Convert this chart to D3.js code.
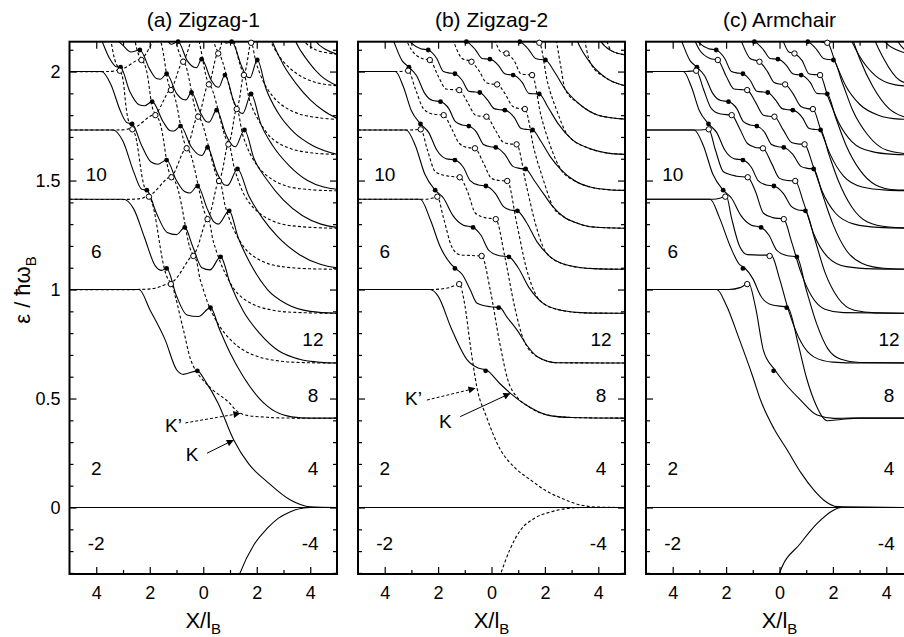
<!DOCTYPE html>
<html><head><meta charset="utf-8">
<script src="https://cdn.jsdelivr.net/npm/d3@7"></script>
<style>
body{margin:0;background:#fff;}
svg text{font-family:"Liberation Sans",Arial,Helvetica,sans-serif;fill:#000;}
</style></head><body>
<svg id="fig" width="904" height="637"></svg>
<script>
// ---------- data (x in l_B, energy in hbar*omega_B) ----------
const yMajor = [0, 0.5, 1, 1.5, 2];
const xMajor = [-4, -2, 0, 2, 4];
const xMinor = [-3, -1, 1, 3];

// marked points, same positions in all three panels
const filledDots = [
  [-0.22,0.627],[0.27,0.917],[0.65,1.15],[0.97,1.361],[1.28,1.553],[1.54,1.732],[1.79,1.897],[2.02,2.053],
  [-1.37,1.097],[-0.69,1.285],[-0.21,1.475],[0.16,1.652],[0.5,1.823],[0.81,1.984],[1.06,2.137],
  [-2.11,1.456],[-1.37,1.594],[-0.85,1.75],[-0.44,1.904],[-0.06,2.057],
  [-2.66,1.76],[-1.91,1.862],[-1.37,1.99],[-0.94,2.137],
  [-3.09,2.02],[-2.37,2.099]
];
const openDots = [
  [-1.21,1.025],[-0.37,1.154],[0.16,1.323],[0.59,1.498],[0.94,1.666],[1.25,1.828],[1.52,1.984],[1.79,2.132],
  [-2.03,1.426],[-1.19,1.515],[-0.62,1.648],[-0.19,1.793],[0.21,1.941],[0.56,2.083],
  [-2.65,1.735],[-1.79,1.80],[-1.21,1.915],[-0.75,2.045],
  [-3.12,2.004],[-2.31,2.053]
];

// (a) Zigzag-1, K valley (solid)
const zig1K = [
  [[-5,0],[5,0]],
  [[1.2,-0.36],[1.36,-0.305],[1.9,-0.17],[2.39,-0.096],[2.8,-0.05],[3.26,-0.019],[4.0,0],[5,0]],
  [[-5,1],[-2.4,1],[-1.99,0.906],[-1.42,0.768],[-0.99,0.631],[-0.74,0.611],[-0.22,0.627],[0.1,0.575],[0.55,0.48],[1.14,0.31],[1.7,0.2],[2.39,0.118],[3.26,0.034],[4.0,0.003],[5,0]],
  [[-5,1.414],[-3.0,1.414],[-2.6,1.37],[-2.2,1.24],[-1.8,1.11],[-1.55,1.088],[-1.37,1.097],[-1.0,0.97],[-0.61,0.883],[-0.18,0.876],[0.27,0.917],[0.6,0.82],[1.0,0.71],[1.5,0.6],[2.1,0.5],[2.7,0.44],[3.3,0.416],[4,0.41],[5,0.41]],
  [[-5,1.732],[-3.37,1.732],[-3.0,1.68],[-2.6,1.54],[-2.3,1.46],[-2.11,1.456],[-1.75,1.35],[-1.35,1.262],[-1.0,1.252],[-0.69,1.285],[-0.4,1.2],[-0.05,1.1],[0.25,1.09],[0.65,1.15],[1.0,1.03],[1.5,0.9],[2.1,0.8],[2.8,0.72],[3.6,0.68],[4.4,0.666],[5,0.663]],
  [[-5,2],[-3.8,2],[-3.45,1.94],[-3.1,1.82],[-2.85,1.765],[-2.66,1.76],[-2.3,1.66],[-1.95,1.585],[-1.7,1.575],[-1.37,1.594],[-1.0,1.5],[-0.7,1.45],[-0.5,1.443],[-0.21,1.475],[0.15,1.37],[0.4,1.31],[0.56,1.3],[0.97,1.361],[1.3,1.24],[1.8,1.11],[2.4,1.0],[3.1,0.935],[4,0.9],[5,0.891]],
  [[-5,2.236],[-4.3,2.236],[-3.9,2.17],[-3.5,2.06],[-3.25,2.022],[-3.09,2.02],[-2.75,1.91],[-2.4,1.848],[-2.2,1.843],[-1.91,1.862],[-1.5,1.77],[-1.25,1.73],[-1.1,1.727],[-0.85,1.75],[-0.45,1.655],[-0.15,1.617],[-0.05,1.615],[0.16,1.652],[0.5,1.54],[0.8,1.48],[0.91,1.478],[1.28,1.553],[1.7,1.43],[2.2,1.33],[2.8,1.24],[3.6,1.16],[4.4,1.115],[5,1.1]],
  [[-5,2.449],[-4.6,2.44],[-4.1,2.33],[-3.6,2.2],[-3.0,2.12],[-2.7,2.09],[-2.37,2.099],[-2.0,2.01],[-1.75,1.968],[-1.6,1.965],[-1.37,1.99],[-1.0,1.9],[-0.75,1.872],[-0.65,1.87],[-0.44,1.904],[-0.1,1.81],[0.12,1.77],[0.22,1.768],[0.5,1.823],[0.85,1.71],[1.1,1.66],[1.2,1.655],[1.54,1.732],[1.9,1.6],[2.4,1.5],[3.0,1.41],[3.7,1.34],[4.4,1.3],[5,1.285]],
  [[-2.5,2.4],[-1.9,2.25],[-1.5,2.18],[-1.2,2.125],[-0.94,2.137],[-0.6,2.05],[-0.35,2.02],[-0.25,2.018],[-0.06,2.057],[0.3,1.96],[0.5,1.93],[0.58,1.928],[0.81,1.984],[1.15,1.86],[1.4,1.81],[1.48,1.808],[1.79,1.897],[2.15,1.76],[2.6,1.66],[3.2,1.57],[3.9,1.5],[4.5,1.47],[5,1.46]],
  [[-0.5,2.5],[0.2,2.3],[0.6,2.19],[0.85,2.13],[1.06,2.137],[1.45,2.02],[1.65,1.975],[1.75,1.972],[2.02,2.053],[2.35,1.92],[2.8,1.81],[3.4,1.72],[4.1,1.66],[5,1.62]],
  [[2.0,2.35],[2.56,2.144],[3.0,2.03],[3.5,1.94],[4.0,1.87],[4.5,1.82],[5,1.785]],
  [[3.0,2.3],[3.43,2.144],[3.9,2.05],[4.4,1.98],[5,1.935]],
  [[3.9,2.22],[4.18,2.144],[4.6,2.1],[5,2.08]]
];
// (a) Zigzag-1, K' valley (dashed)
const zig1Kp = [
  [[-5,1],[-2.5,1],[-1.8,1.006],[-1.21,1.025],[-1.05,0.97],[-0.74,0.814],[-0.36,0.646],[0.26,0.55],[0.89,0.49],[1.39,0.432],[2.39,0.414],[3.5,0.41],[5,0.41]],
  [[-5,1.414],[-2.7,1.414],[-2.3,1.418],[-2.03,1.426],[-1.21,1.035],[-0.37,1.154],[-0.1,1.04],[0.3,0.9],[0.8,0.8],[1.4,0.73],[2.1,0.69],[3.0,0.67],[4,0.664],[5,0.663]],
  [[-5,1.732],[-3.3,1.732],[-2.95,1.733],[-2.65,1.735],[-2.03,1.436],[-1.19,1.515],[-0.37,1.164],[0.16,1.323],[0.4,1.21],[0.8,1.08],[1.3,0.98],[1.9,0.93],[2.7,0.903],[3.7,0.894],[5,0.891]],
  [[-5,2],[-3.7,2],[-3.4,2.001],[-3.12,2.004],[-2.65,1.745],[-1.79,1.80],[-1.19,1.525],[-0.62,1.648],[0.16,1.333],[0.59,1.498],[0.85,1.37],[1.2,1.26],[1.7,1.17],[2.4,1.12],[3.3,1.1],[5,1.093]],
  [[-5,2.236],[-4.1,2.236],[-3.7,2.245],[-3.12,2.014],[-2.31,2.053],[-1.79,1.81],[-1.21,1.915],[-0.62,1.658],[-0.19,1.793],[0.59,1.508],[0.94,1.666],[1.2,1.54],[1.6,1.42],[2.1,1.35],[2.8,1.305],[3.7,1.288],[5,1.281]],
  [[-5,2.449],[-3.6,2.449],[-2.9,2.34],[-2.31,2.063],[-1.7,2.16],[-1.21,1.925],[-0.75,2.045],[-0.19,1.803],[0.21,1.941],[0.94,1.676],[1.25,1.828],[1.5,1.7],[1.9,1.59],[2.4,1.52],[3.1,1.475],[4,1.458],[5,1.453]],
  [[-1.6,2.5],[-0.75,2.055],[-0.3,2.18],[0.21,1.951],[0.56,2.083],[1.25,1.838],[1.52,1.984],[1.75,1.86],[2.1,1.77],[2.6,1.69],[3.3,1.645],[4.2,1.625],[5,1.62]],
  [[-0.2,2.5],[0.56,2.093],[0.9,2.22],[1.52,1.994],[1.79,2.132],[2.0,2.03],[2.4,1.92],[2.9,1.85],[3.6,1.805],[4.4,1.787],[5,1.78]],
  [[1.3,2.45],[1.79,2.142],[2.05,2.29],[2.4,2.17],[2.9,2.06],[3.5,1.99],[4.2,1.95],[5,1.935]],
  [[2.6,2.45],[3.1,2.26],[3.6,2.16],[4.2,2.1],[5,2.08]]
];

// (b) Zigzag-2, K valley (solid)
const zig2K = [
  [[-5,0],[5,0]],
  [[-5,1],[-2.3,1],[-2.0,0.97],[-1.5,0.82],[-0.91,0.677],[-0.5,0.64],[-0.19,0.631],[0.3,0.57],[0.71,0.524],[1.3,0.47],[2.1,0.424],[3.0,0.413],[5,0.41]],
  [[-5,1.414],[-2.67,1.414],[-2.29,1.32],[-1.92,1.196],[-1.54,1.12],[-1.35,1.097],[-1.1,1.07],[-0.8,1.0],[-0.54,0.937],[-0.04,0.921],[0.3,0.918],[0.6,0.87],[0.96,0.814],[1.35,0.74],[1.72,0.692],[2.47,0.664],[5,0.663]],
  [[-5,1.732],[-3.2,1.732],[-2.85,1.66],[-2.5,1.53],[-2.11,1.456],[-1.8,1.42],[-1.45,1.34],[-1.05,1.295],[-0.69,1.285],[-0.4,1.25],[-0.1,1.18],[0.3,1.155],[0.65,1.15],[1.0,1.1],[1.4,1.01],[1.9,0.94],[2.6,0.905],[3.5,0.893],[5,0.891]],
  [[-5,2],[-3.6,2],[-3.3,1.93],[-3.0,1.82],[-2.66,1.76],[-2.35,1.72],[-2.05,1.64],[-1.7,1.6],[-1.37,1.594],[-1.05,1.56],[-0.8,1.5],[-0.5,1.48],[-0.21,1.475],[0.15,1.44],[0.45,1.38],[0.7,1.365],[0.97,1.361],[1.3,1.31],[1.7,1.22],[2.2,1.15],[2.9,1.11],[3.8,1.096],[5,1.093]],
  [[-5,2.236],[-4.0,2.236],[-3.7,2.15],[-3.35,2.05],[-3.09,2.02],[-2.8,1.98],[-2.5,1.9],[-2.2,1.867],[-1.91,1.862],[-1.6,1.83],[-1.35,1.77],[-1.1,1.755],[-0.85,1.75],[-0.55,1.72],[-0.3,1.665],[-0.05,1.655],[0.16,1.652],[0.5,1.62],[0.8,1.565],[1.05,1.556],[1.28,1.553],[1.6,1.5],[1.94,1.441],[2.3,1.38],[2.7,1.334],[3.2,1.305],[3.7,1.288],[5,1.281]],
  [[-5,2.449],[-4.2,2.449],[-3.8,2.35],[-3.4,2.2],[-3.0,2.13],[-2.65,2.105],[-2.37,2.099],[-2.05,2.06],[-1.8,2.0],[-1.55,1.993],[-1.37,1.99],[-1.1,1.96],[-0.85,1.91],[-0.6,1.906],[-0.44,1.904],[-0.15,1.87],[0.1,1.83],[0.3,1.825],[0.5,1.823],[0.85,1.79],[1.1,1.74],[1.35,1.734],[1.54,1.732],[1.85,1.68],[2.2,1.61],[2.6,1.55],[3.1,1.5],[3.7,1.47],[4.5,1.457],[5,1.455]],
  [[-2.2,2.45],[-1.7,2.3],[-1.3,2.18],[-1.1,2.14],[-0.94,2.137],[-0.6,2.1],[-0.35,2.06],[-0.2,2.058],[-0.06,2.057],[0.25,2.03],[0.5,1.99],[0.65,1.986],[0.81,1.984],[1.15,1.95],[1.4,1.9],[1.6,1.898],[1.79,1.897],[2.1,1.84],[2.5,1.76],[3.0,1.69],[3.6,1.65],[4.3,1.627],[5,1.62]],
  [[-0.2,2.45],[0.3,2.3],[0.7,2.17],[0.9,2.14],[1.06,2.137],[1.4,2.1],[1.65,2.06],[1.85,2.055],[2.02,2.053],[2.35,2.0],[2.75,1.92],[3.3,1.85],[4.0,1.8],[5,1.782]],
  [[2.6,2.4],[3.2,2.144],[3.7,2.04],[4.3,1.97],[5,1.935]],
  [[3.6,2.35],[4.07,2.144],[4.5,2.095],[5,2.077]]
];
// (b) Zigzag-2, K' valley (dashed); tails lie on top of the solid ones
const zig2Kp = [
  [[-0.2,-0.5],[0.34,-0.305],[0.7,-0.19],[1.09,-0.103],[1.6,-0.05],[2.22,-0.02],[2.8,-0.005],[3.35,0],[5,0]],
  [[-5,1],[-2.3,1],[-1.6,1.008],[-1.21,1.025],[-1.0,0.93],[-0.8,0.75],[-0.54,0.547],[-0.2,0.42],[0.34,0.264],[0.9,0.18],[1.47,0.126],[2.0,0.08],[2.6,0.044],[3.35,0.011],[4,0.002],[5,0]],
  [[-5,1.414],[-2.5,1.414],[-2.2,1.42],[-2.03,1.426],[-1.8,1.33],[-1.5,1.2],[-1.2,1.16],[-0.75,1.156],[-0.37,1.154],[-0.05,1.0],[0.3,0.76],[0.6,0.59],[1.0,0.5],[1.3,0.47],[2.1,0.424],[3.0,0.413],[5,0.41]],
  [[-5,1.732],[-3.1,1.732],[-2.85,1.733],[-2.65,1.735],[-2.4,1.64],[-2.1,1.54],[-1.6,1.52],[-1.19,1.515],[-0.9,1.45],[-0.6,1.35],[-0.25,1.33],[0.16,1.323],[0.5,1.15],[0.85,0.93],[1.2,0.77],[1.72,0.692],[2.47,0.664],[5,0.663]],
  [[-5,2],[-3.5,2],[-3.12,2.004],[-2.85,1.92],[-2.55,1.83],[-2.2,1.805],[-1.79,1.80],[-1.5,1.74],[-1.2,1.67],[-0.9,1.652],[-0.62,1.648],[-0.3,1.58],[0.0,1.51],[0.3,1.5],[0.59,1.498],[0.95,1.3],[1.3,1.1],[1.7,0.968],[1.9,0.94],[2.6,0.905],[3.5,0.893],[5,0.891]],
  [[-4.0,2.45],[-3.5,2.25],[-3.0,2.1],[-2.6,2.06],[-2.31,2.053],[-2.0,1.98],[-1.7,1.92],[-1.45,1.917],[-1.21,1.915],[-0.9,1.86],[-0.6,1.8],[-0.4,1.795],[-0.19,1.793],[0.15,1.73],[0.45,1.675],[0.7,1.668],[0.94,1.666],[1.3,1.48],[1.65,1.3],[2.0,1.178],[2.2,1.15],[2.9,1.11],[3.8,1.096],[5,1.093]],
  [[-2.6,2.45],[-2.0,2.3],[-1.5,2.16],[-1.1,2.06],[-0.75,2.045],[-0.45,2.0],[-0.2,1.95],[0.0,1.943],[0.21,1.941],[0.5,1.9],[0.8,1.84],[1.05,1.83],[1.25,1.828],[1.6,1.64],[1.95,1.5],[2.3,1.38],[2.7,1.334],[3.2,1.305],[3.7,1.288],[5,1.281]],
  [[-1.0,2.45],[-0.4,2.3],[0.1,2.15],[0.35,2.09],[0.56,2.083],[0.85,2.05],[1.1,1.99],[1.3,1.986],[1.52,1.984],[1.85,1.8],[2.2,1.66],[2.6,1.55],[3.1,1.5],[3.7,1.47],[4.5,1.457],[5,1.455]],
  [[0.5,2.45],[1.0,2.3],[1.4,2.17],[1.6,2.135],[1.79,2.132],[2.1,1.95],[2.45,1.82],[2.8,1.718],[3.0,1.69],[3.6,1.65],[4.3,1.627],[5,1.62]],
  [[2.0,2.45],[2.35,2.2],[2.6,2.02],[2.75,1.92],[3.3,1.85],[4.0,1.8],[5,1.782]],
  [[3.0,2.45],[3.4,2.2],[3.7,2.04],[4.3,1.97],[5,1.935]],
  [[4.0,2.35],[4.3,2.15],[4.5,2.095],[5,2.077]]
];

// (c) Armchair, branches through filled marks (solid)
const armA = [
  [[-5,0],[5,0]],
  [[-0.1,-0.36],[0,-0.302],[0.79,-0.164],[1.41,-0.073],[2.04,-0.011],[2.3,0],[5,0]],
  [[-5,1],[-2.35,1],[-2.0,0.93],[-1.5,0.77],[-1.0,0.6],[-0.71,0.493],[-0.2,0.36],[0.29,0.264],[0.8,0.16],[1.29,0.08],[1.7,0.03],[2.16,0.004],[5,0]],
  [[-5,1.414],[-2.6,1.414],[-2.25,1.33],[-1.85,1.2],[-1.5,1.115],[-1.31,1.1],[-1.0,1.05],[-0.7,0.97],[-0.3,0.93],[0.31,0.918],[0.7,0.75],[1.0,0.6],[1.29,0.493],[1.79,0.398],[2.29,0.404],[3.0,0.41],[5,0.41]],
  [[-5,1.732],[-3.2,1.732],[-2.85,1.66],[-2.5,1.53],[-2.11,1.456],[-1.8,1.42],[-1.45,1.34],[-1.05,1.295],[-0.69,1.285],[-0.4,1.25],[-0.1,1.18],[0.3,1.155],[0.65,1.15],[1.0,1.0],[1.4,0.84],[1.8,0.73],[2.3,0.68],[3.0,0.665],[5,0.663]],
  [[-5,2],[-3.6,2],[-3.3,1.93],[-3.0,1.82],[-2.66,1.76],[-2.35,1.72],[-2.05,1.64],[-1.7,1.6],[-1.37,1.594],[-1.05,1.56],[-0.8,1.5],[-0.5,1.48],[-0.21,1.475],[0.15,1.44],[0.45,1.38],[0.7,1.365],[0.97,1.361],[1.3,1.24],[1.7,1.08],[2.2,0.96],[2.8,0.905],[3.6,0.893],[5,0.891]],
  [[-5,2.236],[-4.0,2.236],[-3.7,2.15],[-3.35,2.05],[-3.09,2.02],[-2.8,1.98],[-2.5,1.9],[-2.2,1.867],[-1.91,1.862],[-1.6,1.83],[-1.35,1.77],[-1.1,1.755],[-0.85,1.75],[-0.55,1.72],[-0.3,1.665],[-0.05,1.655],[0.16,1.652],[0.5,1.62],[0.8,1.565],[1.05,1.556],[1.28,1.553],[1.6,1.44],[2.0,1.3],[2.5,1.18],[3.1,1.12],[3.9,1.098],[5,1.093]],
  [[-5,2.449],[-4.2,2.449],[-3.8,2.35],[-3.4,2.2],[-3.0,2.13],[-2.65,2.105],[-2.37,2.099],[-2.05,2.06],[-1.8,2.0],[-1.55,1.993],[-1.37,1.99],[-1.1,1.96],[-0.85,1.91],[-0.6,1.906],[-0.44,1.904],[-0.15,1.87],[0.1,1.83],[0.3,1.825],[0.5,1.823],[0.85,1.79],[1.1,1.74],[1.35,1.734],[1.54,1.732],[1.85,1.62],[2.2,1.5],[2.7,1.38],[3.3,1.31],[4.1,1.287],[5,1.282]],
  [[-2.2,2.45],[-1.7,2.3],[-1.3,2.18],[-1.1,2.14],[-0.94,2.137],[-0.6,2.1],[-0.35,2.06],[-0.2,2.058],[-0.06,2.057],[0.25,2.03],[0.5,1.99],[0.65,1.986],[0.81,1.984],[1.15,1.95],[1.4,1.9],[1.6,1.898],[1.79,1.897],[2.1,1.79],[2.5,1.66],[3.0,1.55],[3.6,1.48],[4.3,1.458],[5,1.455]],
  [[-0.2,2.45],[0.3,2.3],[0.7,2.17],[0.9,2.14],[1.06,2.137],[1.4,2.1],[1.65,2.06],[1.85,2.055],[2.02,2.053],[2.35,1.95],[2.75,1.82],[3.3,1.71],[4.0,1.64],[5,1.62]],
  [[2.1,2.4],[2.6,2.2],[3.0,2.06],[3.5,1.93],[4.1,1.83],[4.6,1.795],[5,1.785]],
  [[3.0,2.4],[3.4,2.2],[3.9,2.06],[4.5,1.96],[5,1.94]],
  [[3.9,2.35],[4.3,2.17],[4.7,2.1],[5,2.085]]
];
// (c) Armchair, branches through open marks (solid)
const armB = [
  [[-5,1],[-1.9,1],[-1.45,1.01],[-1.15,1.028],[-0.9,0.92],[-0.6,0.72],[-0.19,0.634],[0.2,0.57],[0.79,0.493],[1.41,0.424],[2.04,0.409],[2.66,0.41],[5,0.41]],
  [[-5,1.414],[-2.5,1.414],[-2.2,1.42],[-1.99,1.429],[-1.8,1.33],[-1.5,1.2],[-1.2,1.16],[-0.75,1.158],[-0.31,1.158],[0.0,1.05],[0.35,0.9],[0.8,0.76],[1.3,0.69],[2.0,0.667],[3.0,0.663],[5,0.663]],
  [[-5,1.732],[-3.1,1.732],[-2.85,1.733],[-2.65,1.735],[-2.4,1.64],[-2.1,1.54],[-1.6,1.52],[-1.19,1.515],[-0.9,1.45],[-0.6,1.35],[-0.25,1.33],[0.16,1.323],[0.45,1.22],[0.8,1.08],[1.2,0.97],[1.7,0.91],[2.4,0.894],[5,0.891]],
  [[-5,2],[-3.5,2],[-3.12,2.004],[-2.85,1.92],[-2.55,1.83],[-2.2,1.805],[-1.79,1.80],[-1.5,1.74],[-1.2,1.67],[-0.9,1.652],[-0.62,1.648],[-0.3,1.58],[0.0,1.51],[0.3,1.5],[0.59,1.498],[0.9,1.4],[1.3,1.25],[1.8,1.15],[2.5,1.105],[3.5,1.095],[5,1.093]],
  [[-4.0,2.45],[-3.5,2.25],[-3.0,2.1],[-2.6,2.06],[-2.31,2.053],[-2.0,1.98],[-1.7,1.92],[-1.45,1.917],[-1.21,1.915],[-0.9,1.86],[-0.6,1.8],[-0.4,1.795],[-0.19,1.793],[0.15,1.73],[0.45,1.675],[0.7,1.668],[0.94,1.666],[1.25,1.57],[1.6,1.45],[2.1,1.35],[2.8,1.3],[3.7,1.285],[5,1.281]],
  [[-2.6,2.45],[-2.0,2.3],[-1.5,2.16],[-1.1,2.06],[-0.75,2.045],[-0.45,2.0],[-0.2,1.95],[0.0,1.943],[0.21,1.941],[0.5,1.9],[0.8,1.84],[1.05,1.83],[1.25,1.828],[1.55,1.73],[1.9,1.62],[2.4,1.52],[3.1,1.47],[4,1.456],[5,1.453]],
  [[-1.0,2.45],[-0.4,2.3],[0.1,2.15],[0.35,2.09],[0.56,2.083],[0.85,2.05],[1.1,1.99],[1.3,1.986],[1.52,1.984],[1.8,1.89],[2.2,1.77],[2.7,1.68],[3.4,1.635],[4.3,1.62],[5,1.618]],
  [[0.5,2.45],[1.0,2.3],[1.4,2.17],[1.6,2.135],[1.79,2.132],[2.1,2.04],[2.5,1.93],[3.0,1.85],[3.7,1.8],[4.5,1.782],[5,1.78]],
  [[1.9,2.45],[2.5,2.2],[3.0,2.07],[3.6,1.98],[4.3,1.94],[5,1.932]],
  [[3.0,2.45],[3.5,2.23],[4.0,2.13],[4.6,2.09],[5,2.08]]
];

// filling-factor labels [text, x, energy]
const fillLabels = [
  ["10",-4.0,1.53],["6",-4.0,1.173],["2",-4.0,0.18],["-2",-4.0,-0.164],
  ["12",4.1,0.769],["8",4.1,0.516],["4",4.1,0.18],["-4",4.0,-0.164]
];
// K / K' annotations: [text, x, energy], arrows [x0, e0, x1, e1, dashed]
const zig1Notes = [["K’",-1.11,0.378],["K",-0.42,0.241]];
const zig1Arrows = [[-0.67,0.388,1.39,0.432,true],[0.14,0.249,1.14,0.31,false]];
const zig2Notes = [["K’",-2.92,0.501],["K",-1.73,0.394]];
const zig2Arrows = [[-2.42,0.493,-0.6,0.547,true],[-1.17,0.417,0.71,0.524,false]];

// ---------- drawing ----------
const svg = d3.select("#fig");
const y = d3.scaleLinear().domain([-0.305, 2.137]).range([574, 41.7]);
const yMinor = d3.range(-3, 22).map(i => i / 10).filter(v => !yMajor.some(m => Math.abs(m - v) < 1e-6));

svg.append("defs").append("marker")
  .attr("id", "arrow").attr("viewBox", "0 0 10 10").attr("refX", 10).attr("refY", 5)
  .attr("markerWidth", 9).attr("markerHeight", 7).attr("markerUnits", "userSpaceOnUse")
  .attr("orient", "auto")
  .append("path").attr("d", "M0,0 L10,5 L0,10 z").attr("fill", "#000");

const panels = [
  {id: "a", title: "(a) Zigzag-1", range: [69.5, 337],
   sets: [{curves: zig1K, dashed: false, curve: d3.curveMonotoneX},
          {curves: zig1Kp, dashed: true, curve: d3.curveCatmullRom.alpha(0.5)}],
   notes: zig1Notes, arrows: zig1Arrows},
  {id: "b", title: "(b) Zigzag-2", range: [358, 625],
   sets: [{curves: zig2K, dashed: false, curve: d3.curveMonotoneX},
          {curves: zig2Kp, dashed: true, curve: d3.curveMonotoneX}],
   notes: zig2Notes, arrows: zig2Arrows},
  {id: "c", title: "(c) Armchair", range: [646, 913],
   sets: [{curves: armA, dashed: false, curve: d3.curveMonotoneX},
          {curves: armB, dashed: false, curve: d3.curveMonotoneX}],
   notes: [], arrows: []}
];

panels.forEach(p => {
  const x = d3.scaleLinear().domain([-5, 5]).range(p.range);
  const g = svg.append("g");
  const top = y(2.137), bottom = y(-0.305);

  svg.select("defs").append("clipPath").attr("id", "clip-" + p.id)
    .append("rect").attr("x", p.range[0]).attr("y", top)
    .attr("width", p.range[1] - p.range[0]).attr("height", bottom - top);

  const plot = g.append("g").attr("clip-path", `url(#clip-${p.id})`);
  p.sets.forEach(s => {
    const line = d3.line().x(d => x(d[0])).y(d => y(d[1])).curve(s.curve);
    plot.selectAll(null).data(s.curves).join("path")
      .attr("d", line).attr("fill", "none").attr("stroke", "#000")
      .attr("stroke-width", 1.1)
      .attr("stroke-dasharray", s.dashed ? "3,2.2" : null);
  });

  // axes: major and minor ticks pointing inwards on all four sides
  const noLabel = () => "";
  const addAxis = (axis, tr) => g.append("g").attr("transform", tr).call(axis)
    .call(a => a.select(".domain").remove())
    .attr("font-size", 18).attr("font-family", null);
  addAxis(d3.axisLeft(y).tickValues(yMajor).tickSize(-7).tickPadding(9)
    .tickFormat(p.id === "a" ? d3.format("") : noLabel), `translate(${p.range[0]},0)`);
  addAxis(d3.axisLeft(y).tickValues(yMinor).tickSize(-4).tickFormat(noLabel), `translate(${p.range[0]},0)`);
  addAxis(d3.axisRight(y).tickValues(yMajor).tickSize(-7).tickFormat(noLabel), `translate(${p.range[1]},0)`);
  addAxis(d3.axisRight(y).tickValues(yMinor).tickSize(-4).tickFormat(noLabel), `translate(${p.range[1]},0)`);
  addAxis(d3.axisBottom(x).tickValues(xMajor).tickSize(-7).tickPadding(12)
    .tickFormat(d => Math.abs(d)), `translate(0,${bottom})`);
  addAxis(d3.axisBottom(x).tickValues(xMinor).tickSize(-4).tickFormat(noLabel), `translate(0,${bottom})`);
  addAxis(d3.axisTop(x).tickValues(xMajor).tickSize(-7).tickFormat(noLabel), `translate(0,${top})`);
  addAxis(d3.axisTop(x).tickValues(xMinor).tickSize(-4).tickFormat(noLabel), `translate(0,${top})`);
  g.selectAll(".tick line").attr("stroke-width", 1.2);

  g.append("rect").attr("x", p.range[0]).attr("y", top)
    .attr("width", p.range[1] - p.range[0]).attr("height", bottom - top)
    .attr("fill", "none").attr("stroke", "#000").attr("stroke-width", 2);

  // marks
  g.selectAll(null).data(filledDots).join("circle")
    .attr("cx", d => x(d[0])).attr("cy", d => y(d[1])).attr("r", 2.4).attr("fill", "#000");
  g.selectAll(null).data(openDots).join("circle")
    .attr("cx", d => x(d[0])).attr("cy", d => y(d[1])).attr("r", 2.7)
    .attr("fill", "#fff").attr("stroke", "#000").attr("stroke-width", 1);

  // filling-factor labels
  g.selectAll(null).data(fillLabels).join("text")
    .attr("x", d => x(d[1])).attr("y", d => y(d[2])).attr("text-anchor", "middle")
    .attr("dominant-baseline", "central").attr("font-size", 19).text(d => d[0]);

  // K, K' notes
  g.selectAll(null).data(p.notes).join("text")
    .attr("x", d => x(d[1])).attr("y", d => y(d[2])).attr("text-anchor", "middle")
    .attr("dominant-baseline", "central").attr("font-size", 19).text(d => d[0]);
  g.selectAll(null).data(p.arrows).join("line")
    .attr("x1", d => x(d[0])).attr("y1", d => y(d[1]))
    .attr("x2", d => x(d[2])).attr("y2", d => y(d[3]))
    .attr("stroke", "#000").attr("stroke-width", 1)
    .attr("stroke-dasharray", d => d[4] ? "3,2" : null)
    .attr("marker-end", "url(#arrow)");

  // title and x label
  const cx = x(0);
  g.append("text").attr("x", cx).attr("y", 27).attr("text-anchor", "middle")
    .attr("font-size", 21).text(p.title);
  const xl = g.append("text").attr("x", cx).attr("y", 628).attr("text-anchor", "middle")
    .attr("font-size", 22);
  xl.append("tspan").text("X/l");
  xl.append("tspan").attr("font-size", 15).attr("dy", 6).text("B");
});

// y axis label
const yl = svg.append("text").attr("transform", "translate(30,290) rotate(-90)")
  .attr("text-anchor", "middle").attr("font-size", 22);
yl.append("tspan").text("ε / ħω");
yl.append("tspan").attr("font-size", 15).attr("dy", 6).text("B");
</script></body></html>
